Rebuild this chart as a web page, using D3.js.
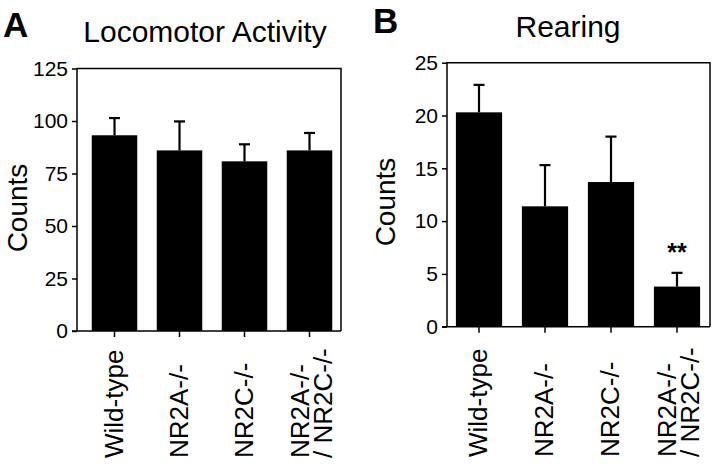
<!DOCTYPE html>
<html>
<head>
<meta charset="utf-8">
<script src="https://cdn.jsdelivr.net/npm/d3@7"></script>
<style>
  html, body { margin: 0; padding: 0; background: #fff; }
  svg { display: block; font-family: "Liberation Sans", Arial, Helvetica, sans-serif; }
</style>
</head>
<body>
<svg id="chart" width="720" height="464"></svg>
<script>
// ---- data ----
const categories = ["Wild-type", "NR2A-/-", "NR2C-/-", "NR2A-/- / NR2C-/-"];
const labelLines = [["Wild-type"], ["NR2A-/-"], ["NR2C-/-"], ["NR2A-/-", "/ NR2C-/-"]];

const locomotorMeans = [93.2, 86.0, 80.8, 86.0];
const locomotorErrTop = [101.4, 99.8, 88.9, 94.3];
const locomotorTicks = [0, 25, 50, 75, 100, 125];

const rearingMeans = [20.3, 11.4, 13.7, 3.8];
const rearingErrTop = [22.9, 15.3, 18.0, 5.1];
const rearingTicks = [0, 5, 10, 15, 20, 25];
const rearingSignif = ["", "", "", "**"];

const svg = d3.select("#chart");

function panel(opts) {
  const g = svg.append("g");
  const x = d3.scaleBand().domain(categories).range(opts.xRange)
    .paddingInner(0.3).paddingOuter(0.15);
  const y = d3.scaleLinear().domain([0, opts.yMax]).range(opts.yRange);

  const [fx0, fx1] = opts.frameX;
  // frame (left, top, right)
  g.append("path")
    .attr("d", `M${fx0},${y(0)}V${y(opts.yMax)}H${fx1}V${y(0)}`)
    .attr("fill", "none").attr("stroke", "#000").attr("stroke-width", 1.5);

  // bars
  g.selectAll("rect.bar").data(opts.means).join("rect")
    .attr("class", "bar")
    .attr("x", (d, i) => x(categories[i]))
    .attr("width", x.bandwidth())
    .attr("y", d => y(d))
    .attr("height", d => y(0) - y(d))
    .attr("fill", "#000");

  // error bars (upper only)
  const cx = i => x(categories[i]) + x.bandwidth() / 2;
  g.selectAll("line.err").data(opts.errTop).join("line")
    .attr("x1", (d, i) => cx(i)).attr("x2", (d, i) => cx(i))
    .attr("y1", (d, i) => y(opts.means[i])).attr("y2", d => y(d))
    .attr("stroke", "#000").attr("stroke-width", 2.2);
  g.selectAll("line.cap").data(opts.errTop).join("line")
    .attr("x1", (d, i) => cx(i) - 5.5).attr("x2", (d, i) => cx(i) + 5.5)
    .attr("y1", d => y(d)).attr("y2", d => y(d))
    .attr("stroke", "#000").attr("stroke-width", 2.2);

  // significance
  if (opts.signif) {
    g.selectAll("text.sig").data(opts.signif).join("text")
      .attr("x", (d, i) => cx(i))
      .attr("y", (d, i) => y(opts.errTop[i]) - 12)
      .attr("text-anchor", "middle")
      .attr("font-size", 25)
      .attr("font-weight", "bold")
      .text(d => d);
  }

  // y axis
  const yAxis = g.append("g")
    .attr("transform", `translate(${fx0},0)`)
    .call(d3.axisLeft(y).tickValues(opts.ticks).tickSize(5).tickPadding(4));
  yAxis.select(".domain").remove();
  yAxis.selectAll(".tick line").attr("stroke-width", 1.5);
  yAxis.selectAll("text").attr("font-size", 21).attr("fill", "#000")
    .attr("font-family", "Liberation Sans, Arial, sans-serif");

  // x axis
  const xAxis = g.append("g")
    .attr("transform", `translate(0,${y(0)})`)
    .call(d3.axisBottom(x).tickSize(6).tickFormat(""));
  xAxis.select(".domain")
    .attr("d", `M${fx0 - 5},0H${fx1}`)
    .attr("stroke-width", 1.5);
  xAxis.selectAll(".tick line").attr("stroke-width", 1.5);

  // x labels (rotated)
  const lbl = g.selectAll("text.xl").data(categories).join("text")
    .attr("class", "xl")
    .attr("transform", (d, i) => `translate(${cx(i)},${opts.labelBase}) rotate(-90)`)
    .attr("text-anchor", "start")
    .attr("font-size", 26);
  lbl.each(function (d, i) {
    const lines = labelLines[i];
    const t = d3.select(this);
    if (lines.length === 1) {
      t.append("tspan").attr("x", 0).attr("y", 8).text(lines[0]);
    } else {
      lines.forEach((s, k) => {
        t.append("tspan").attr("x", 0).attr("y", -1 + k * 23).text(s);
      });
    }
  });

  // y title
  g.append("text")
    .attr("transform", `translate(${opts.yTitleX},${opts.yTitleY}) rotate(-90)`)
    .attr("text-anchor", "middle")
    .attr("font-size", 28)
    .text("Counts");

  // panel title
  g.append("text")
    .attr("x", opts.titleX).attr("y", opts.titleY)
    .attr("text-anchor", "middle")
    .attr("font-size", 30)
    .text(opts.title);

  // panel letter
  g.append("text")
    .attr("x", opts.letterX).attr("y", opts.letterY)
    .attr("font-size", 35).attr("font-weight", "bold")
    .attr("font-family", "Liberation Sans, Arial, sans-serif")
    .text(opts.letter);
}

panel({
  means: locomotorMeans, errTop: locomotorErrTop, ticks: locomotorTicks, yMax: 125,
  xRange: [82, 342], yRange: [331, 68.5], frameX: [77, 341],
  labelBase: 458, yTitleX: 27, yTitleY: 208,
  title: "Locomotor Activity", titleX: 205, titleY: 42,
  letter: "A", letterX: 3, letterY: 37
});

panel({
  means: rearingMeans, errTop: rearingErrTop, ticks: rearingTicks, yMax: 25, signif: rearingSignif,
  xRange: [446, 710], yRange: [326.7, 62.7], frameX: [447, 710],
  labelBase: 457, yTitleX: 395, yTitleY: 202,
  title: "Rearing", titleX: 568, titleY: 37,
  letter: "B", letterX: 373, letterY: 33
});
</script>
</body>
</html>
